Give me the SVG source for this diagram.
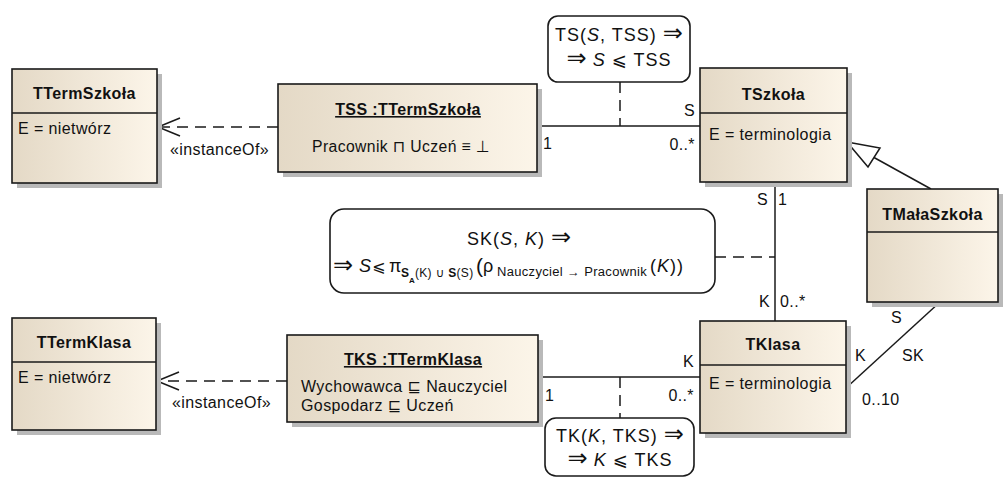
<svg xmlns="http://www.w3.org/2000/svg" width="1003" height="477" viewBox="0 0 1003 477">
  <style>
    text { font-family: "Liberation Sans", "DejaVu Sans", sans-serif; fill: #111; }
    .t { font-size: 16px; letter-spacing: 0.4px; }
    .b { font-size: 16px; font-weight: bold; letter-spacing: 0.4px; }
    .m { font-size: 18px; letter-spacing: 1px; }
    .s { font-size: 12px; letter-spacing: 0.3px; }
    .c { text-anchor: middle; }
    .e { text-anchor: end; }
    .u { text-decoration: underline; }
    .imp { font-size: 24px; letter-spacing: 0; }
    .box { fill: url(#beige); stroke: #1a1a1a; stroke-width: 1.6; }
    .shadow { fill: #b9b9b9; }
    .sep { stroke: #1a1a1a; stroke-width: 1.6; }
    .note { fill: #fff; stroke: #1a1a1a; stroke-width: 1.6; }
    .assoc { stroke: #1a1a1a; stroke-width: 1.5; fill: none; }
    .dash { stroke: #1a1a1a; stroke-width: 1.5; fill: none; stroke-dasharray: 11 7; }
  </style>
  <defs>
    <linearGradient id="beige" x1="0" y1="0" x2="1" y2="0">
      <stop offset="0" stop-color="#e4d9c6"/>
      <stop offset="1" stop-color="#fcf5e9"/>
    </linearGradient>
    <marker id="open" viewBox="-24 -11 26 22" markerWidth="26" markerHeight="22" refX="0" refY="0" orient="auto" markerUnits="userSpaceOnUse">
      <path d="M-22,-9 L0,0 L-22,9" fill="none" stroke="#1a1a1a" stroke-width="1.6"/>
    </marker>
  </defs>

  <!-- connectors -->
  <g id="connectors">
    <!-- TSS to TSzkoła -->
    <line class="assoc" x1="537" y1="126" x2="700" y2="126"/>
    <text class="t" x="543" y="149">1</text>
    <text class="t e" x="695" y="116">S</text>
    <text class="t e" x="695" y="150">0..*</text>
    <!-- TKS to TKlasa -->
    <line class="assoc" x1="538" y1="377" x2="700" y2="377"/>
    <text class="t" x="545" y="401">1</text>
    <text class="t e" x="694" y="367">K</text>
    <text class="t e" x="694" y="401">0..*</text>
    <!-- TSzkoła to TKlasa -->
    <line class="assoc" x1="775" y1="182" x2="775" y2="321"/>
    <text class="t e" x="768" y="205">S</text>
    <text class="t" x="778" y="205">1</text>
    <text class="t e" x="770" y="307">K</text>
    <text class="t" x="780" y="307">0..*</text>
    <!-- TKlasa to TMałaSzkoła (SK) -->
    <line class="assoc" x1="846" y1="388" x2="940" y2="302"/>
    <text class="t" x="891" y="323">S</text>
    <text class="t" x="855" y="361">K</text>
    <text class="t" x="902" y="361">SK</text>
    <text class="t" x="862" y="405">0..10</text>
    <!-- generalization TMałaSzkoła to TSzkoła -->
    <line class="assoc" x1="931" y1="189" x2="874" y2="157.5"/>
    <polygon points="847,142 880,148 868,167" fill="#fff" stroke="#1a1a1a" stroke-width="1.5"/>
    <!-- instanceOf dependencies -->
    <line class="dash" x1="278" y1="127" x2="158" y2="127" marker-end="url(#open)"/>
    <text class="t" x="170" y="155">«instanceOf»</text>
    <line class="dash" x1="287" y1="381" x2="157" y2="381" marker-end="url(#open)"/>
    <text class="t" x="172" y="408">«instanceOf»</text>
    <!-- note links -->
    <line class="dash" x1="620" y1="82" x2="620" y2="126"/>
    <line class="dash" x1="620" y1="377" x2="620" y2="418"/>
    <line class="dash" x1="715" y1="257" x2="775" y2="257"/>
  </g>

  <g id="TTermSzkola">
    <rect class="shadow" x="17" y="74" width="145" height="114"/>
    <rect class="box" x="12" y="69" width="145" height="114"/>
    <line class="sep" x1="12" y1="113" x2="157" y2="113"/>
    <text class="b c" x="84.5" y="99">TTermSzkoła</text>
    <text class="t" x="18" y="134">E = nietwórz</text>
  </g>

  <g id="TSS">
    <rect class="shadow" x="283" y="89" width="259" height="88"/>
    <rect class="box" x="278" y="84" width="259" height="88"/>
    <text class="b c u" x="408" y="115">TSS :TTermSzkoła</text>
    <text class="t" x="312" y="152" textLength="178" lengthAdjust="spacingAndGlyphs">Pracownik ⊓ Uczeń ≡ ⊥</text>
  </g>

  <g id="TSzkola">
    <rect class="shadow" x="705" y="73" width="147" height="114"/>
    <rect class="box" x="700" y="68" width="147" height="114"/>
    <line class="sep" x1="700" y1="113" x2="847" y2="113"/>
    <text class="b c" x="773.5" y="100">TSzkoła</text>
    <text class="t" x="709" y="140">E = terminologia</text>
  </g>

  <g id="TMalaSzkola">
    <rect class="shadow" x="872" y="194" width="131" height="113"/>
    <rect class="box" x="867" y="189" width="131" height="113"/>
    <line class="sep" x1="867" y1="232" x2="998" y2="232"/>
    <text class="b c" x="932.5" y="220">TMałaSzkoła</text>
  </g>

  <g id="TKlasa">
    <rect class="shadow" x="705" y="326" width="146" height="112"/>
    <rect class="box" x="700" y="321" width="146" height="112"/>
    <line class="sep" x1="700" y1="365" x2="846" y2="365"/>
    <text class="b c" x="773" y="350">TKlasa</text>
    <text class="t" x="709" y="389">E = terminologia</text>
  </g>

  <g id="TKS">
    <rect class="shadow" x="292" y="340" width="251" height="87"/>
    <rect class="box" x="287" y="335" width="251" height="87"/>
    <text class="b c u" x="413" y="365">TKS :TTermKlasa</text>
    <text class="t" x="301" y="392">Wychowawca ⊑ Nauczyciel</text>
    <text class="t" x="301" y="411">Gospodarz ⊑ Uczeń</text>
  </g>

  <g id="TTermKlasa">
    <rect class="shadow" x="17" y="323" width="144" height="112"/>
    <rect class="box" x="12" y="318" width="144" height="112"/>
    <line class="sep" x1="12" y1="362" x2="156" y2="362"/>
    <text class="b c" x="84" y="348">TTermKlasa</text>
    <text class="t" x="18" y="383">E = nietwórz</text>
  </g>

  <g id="noteTS">
    <rect class="note" x="548" y="16" width="142" height="66" rx="10"/>
    <text class="m c" x="619" y="41">TS(<tspan font-style="italic">S</tspan>, TSS) <tspan class="imp">⇒</tspan></text>
    <text class="m c" x="619" y="66"><tspan class="imp">⇒</tspan> <tspan font-style="italic">S</tspan> ⩽ TSS</text>
  </g>

  <g id="noteSK">
    <rect class="note" x="330" y="209" width="385" height="84" rx="14"/>
    <text class="m c" x="519" y="245">SK(<tspan font-style="italic">S</tspan>, <tspan font-style="italic">K</tspan>) <tspan class="imp">⇒</tspan></text>
    <text class="imp" x="333" y="273">⇒</text>
    <text class="m" x="359" y="272" font-style="italic">S</text>
    <text x="372" y="272" font-size="16">⩽</text>
    <text class="m" x="389" y="272">π</text>
    <text class="s" x="401" y="277" font-weight="bold">S</text>
    <text x="409" y="283" font-size="8" font-weight="bold">A</text>
    <text class="s" x="415" y="277">(K) ∪ <tspan font-weight="bold">S</tspan>(S)</text>
    <text x="476" y="273" font-size="21">(</text>
    <text class="m" x="483" y="272">ρ</text>
    <text class="s" x="497" y="276" textLength="150" lengthAdjust="spacingAndGlyphs">Nauczyciel → Pracownik</text>
    <text class="m" x="650" y="272">(<tspan font-style="italic">K</tspan>))</text>
  </g>

  <g id="noteTK">
    <rect class="note" x="545" y="418" width="149" height="58" rx="11"/>
    <text class="m c" x="620" y="442">TK(<tspan font-style="italic">K</tspan>, TKS) <tspan class="imp">⇒</tspan></text>
    <text class="m c" x="620" y="466"><tspan class="imp">⇒</tspan> <tspan font-style="italic">K</tspan> ⩽ TKS</text>
  </g>
</svg>
